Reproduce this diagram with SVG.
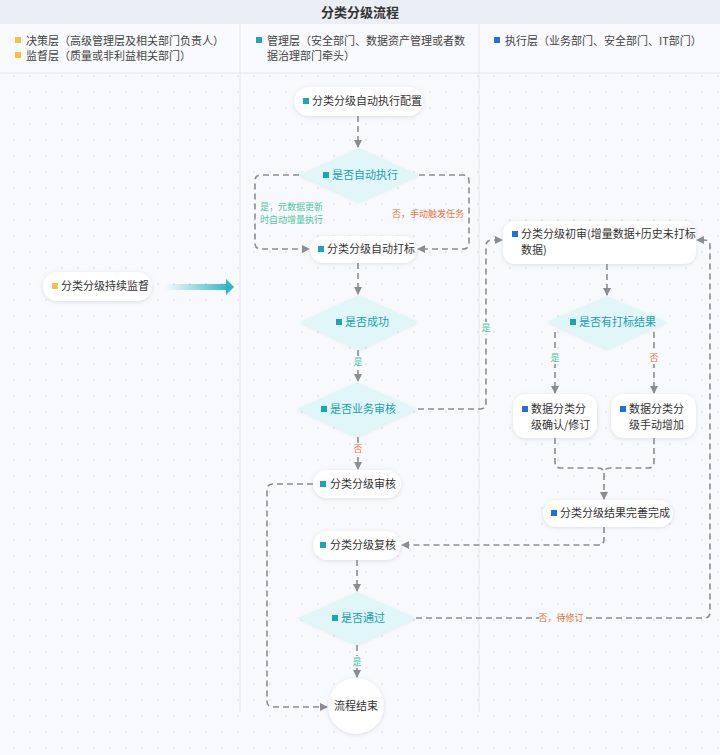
<svg xmlns="http://www.w3.org/2000/svg" width="720" height="755" viewBox="0 0 720 755">
<style>
text{font-family:"Noto Sans CJK SC","Noto Sans",sans-serif;}
.title{font-size:13px;font-weight:bold;fill:#333;}
.hdr{font-size:11px;fill:#444;}
.nt{font-size:11px;fill:#333;}
.dt{font-size:11px;fill:#1a9fad;}
.node{fill:#fff;filter:url(#sh);}
.dia{fill:#e1f6f8;filter:url(#sh2);}
.con{fill:none;stroke:#8a8d94;stroke-width:1.6;stroke-dasharray:6 4;}
.arr{marker-end:url(#ah);}
.yes{font-size:9px;fill:#4cc9a0;}
.no{font-size:9px;fill:#e8743b;}
.lane{stroke:#e3e6ee;stroke-width:1;}
</style>
<defs>
<pattern id="dots" width="16" height="16" patternUnits="userSpaceOnUse" x="6" y="4">
<circle cx="8" cy="8" r="0.8" fill="#cdd2dc"/>
</pattern>
<filter id="sh" x="-20%" y="-40%" width="140%" height="180%">
<feDropShadow dx="0" dy="1" stdDeviation="2" flood-color="#8892a6" flood-opacity="0.25"/>
</filter>
<filter id="sh2" x="-20%" y="-40%" width="140%" height="180%">
<feDropShadow dx="0" dy="1" stdDeviation="1.5" flood-color="#7fc6cf" flood-opacity="0.25"/>
</filter>
<marker id="ah" markerWidth="8" markerHeight="8" refX="7" refY="4" orient="auto" markerUnits="userSpaceOnUse">
<path d="M0,0 L8,4 L0,8 Z" fill="#8a8d94"/>
</marker>
<linearGradient id="ga" x1="0" y1="0" x2="1" y2="0">
<stop offset="0" stop-color="#3bbcc8" stop-opacity="0"/>
<stop offset="1" stop-color="#2fb5c3"/>
</linearGradient>
</defs>
<rect width="720" height="755" fill="#f8f9fd"/>
<rect y="73" width="720" height="682" fill="url(#dots)"/>
<rect width="720" height="24" fill="#eceef5"/>
<text class="title" x="360" y="17" text-anchor="middle">分类分级流程</text>
<rect y="24" width="720" height="49" fill="#f9fafd"/>
<line class="lane" x1="0" y1="73" x2="720" y2="73"/>
<line class="lane" x1="240" y1="24" x2="240" y2="712"/>
<line class="lane" x1="479" y1="24" x2="479" y2="712"/>
<g id="header">
<rect x="15" y="37" width="6" height="6" fill="#f5c342"/>
<text class="hdr" x="26" y="45">决策层（高级管理层及相关部门负责人）</text>
<rect x="15" y="52" width="6" height="6" fill="#f5c342"/>
<text class="hdr" x="26" y="60">监督层（质量或非利益相关部门）</text>
<rect x="256" y="37" width="6" height="6" fill="#1ba6b5"/>
<text class="hdr" x="267" y="45">管理层（安全部门、数据资产管理或者数</text>
<text class="hdr" x="267" y="60">据治理部门牵头）</text>
<rect x="494" y="37" width="6" height="6" fill="#1f6fe0"/>
<text class="hdr" x="505" y="45">执行层（业务部门、安全部门、IT部门）</text>
</g>
<g id="connectors">
<path class="con arr" d="M358,116 V147"/>
<path class="con arr" d="M299,175 H261 Q255,175 255,181 V243 Q255,249 261,249 H309"/>
<path class="con arr" d="M419,175 H463 Q469,175 469,181 V243 Q469,249 463,249 H418"/>
<path class="con arr" d="M358,263 V294"/>
<path class="con arr" d="M358,350 V381"/>
<path class="con arr" d="M418,409 H480 Q486,409 486,403 V246 Q486,240 492,240 H502"/>
<path class="con arr" d="M358,437 V469"/>
<path class="con arr" d="M313,484 H273 Q267,484 267,490 V701 Q267,707 273,707 H327"/>
<path class="con arr" d="M607,264 V295"/>
<path class="con arr" d="M555,332 V393"/>
<path class="con arr" d="M654,332 V393"/>
<path class="con arr" d="M555,438 V462 Q555,468 561,468 H598 Q604,468 604,474 V499"/>
<path class="con" d="M654,438 V462 Q654,468 648,468 H610 Q604,468 604,474"/>
<path class="con arr" d="M604,527 V539 Q604,545 598,545 H402"/>
<path class="con arr" d="M357,560 V591"/>
<path class="con arr" d="M357,645 V677"/>
<path class="con arr" d="M416,618 H704 Q710,618 710,612 V246 Q710,240 704,240 H697"/>
<rect x="165" y="284" width="64" height="6" fill="url(#ga)"/>
<path d="M226,279 L234,287 L226,295 Z" fill="#2fb5c3"/>
<text class="yes" x="260" y="210">是，元数据更新</text>
<text class="yes" x="260" y="223">时自动增量执行</text>
<text class="no" x="392" y="217">否，手动触发任务</text>
<rect x="352" y="356" width="12" height="12" fill="#f8f9fd"/>
<text class="yes" x="358" y="365" text-anchor="middle">是</text>
<rect x="480" y="322" width="12" height="12" fill="#f8f9fd"/>
<text class="yes" x="486" y="331" text-anchor="middle">是</text>
<rect x="352" y="443" width="12" height="12" fill="#f8f9fd"/>
<text class="no" x="358" y="452" text-anchor="middle">否</text>
<rect x="549" y="352" width="12" height="12" fill="#f8f9fd"/>
<text class="yes" x="555" y="361" text-anchor="middle">是</text>
<rect x="648" y="352" width="12" height="12" fill="#f8f9fd"/>
<text class="no" x="654" y="361" text-anchor="middle">否</text>
<rect x="351" y="656" width="12" height="12" fill="#f8f9fd"/>
<text class="yes" x="357" y="665" text-anchor="middle">是</text>
<rect x="539" y="612" width="44" height="12" fill="#f8f9fd"/>
<text class="no" x="561" y="621" text-anchor="middle">否，待修订</text>
</g>
<g id="n-config">
<rect class="node" x="294" y="87" width="129" height="29" rx="14.5"/>
<rect x="303" y="98" width="6" height="6" fill="#1ba6b5"/>
<text class="nt" x="312" y="105">分类分级自动执行配置</text>
</g>
<g id="n-auto">
<path class="dia" d="M359,148 L419,175 L359,202 L299,175 Z"/>
<rect x="323" y="172" width="6" height="6" fill="#1ba6b5"/>
<text class="dt" x="332" y="179">是否自动执行</text>
</g>
<g id="n-tag">
<rect class="node" x="310" y="236" width="107" height="27" rx="13.5"/>
<rect x="318" y="246" width="6" height="6" fill="#1ba6b5"/>
<text class="nt" x="327" y="253">分类分级自动打标</text>
</g>
<g id="n-success">
<path class="dia" d="M359,295 L418,322 L359,350 L300,322 Z"/>
<rect x="336" y="319" width="6" height="6" fill="#1ba6b5"/>
<text class="dt" x="345" y="326">是否成功</text>
</g>
<g id="n-bizreview">
<path class="dia" d="M357,382 L417,409 L357,437 L297,409 Z"/>
<rect x="321" y="406" width="6" height="6" fill="#1ba6b5"/>
<text class="dt" x="330" y="413">是否业务审核</text>
</g>
<g id="n-review">
<rect class="node" x="313" y="470" width="88" height="28" rx="14"/>
<rect x="320" y="481" width="6" height="6" fill="#1ba6b5"/>
<text class="nt" x="330" y="488">分类分级审核</text>
</g>
<g id="n-recheck">
<rect class="node" x="313" y="531" width="88" height="29" rx="14.5"/>
<rect x="320" y="542" width="6" height="6" fill="#1ba6b5"/>
<text class="nt" x="330" y="549">分类分级复核</text>
</g>
<g id="n-pass">
<path class="dia" d="M357,592 L416,618 L357,645 L298,618 Z"/>
<rect x="332" y="615" width="6" height="6" fill="#1ba6b5"/>
<text class="dt" x="341" y="622">是否通过</text>
</g>
<g id="n-end">
<circle class="node" cx="356" cy="706" r="28"/>
<text class="nt" x="356" y="710" text-anchor="middle">流程结束</text>
</g>
<g id="n-supervise">
<rect class="node" x="43" y="272" width="109" height="29" rx="14.5"/>
<rect x="52" y="283" width="6" height="6" fill="#f5c342"/>
<text class="nt" x="61" y="290">分类分级持续监督</text>
</g>
<g id="n-initial">
<rect class="node" x="503" y="221" width="193" height="43" rx="12"/>
<rect x="512" y="231" width="6" height="6" fill="#1f6fe0"/>
<text class="nt" x="521" y="238">分类分级初审(增量数据+历史未打标</text>
<text class="nt" x="521" y="254">数据)</text>
</g>
<g id="n-hastag">
<path class="dia" d="M607,296 L667,322 L607,349 L547,322 Z"/>
<rect x="570" y="319" width="6" height="6" fill="#1ba6b5"/>
<text class="dt" x="579" y="326">是否有打标结果</text>
</g>
<g id="n-confirm">
<rect class="node" x="513" y="394" width="84" height="44" rx="13"/>
<rect x="522" y="406" width="6" height="6" fill="#1f6fe0"/>
<text class="nt" x="531" y="413">数据分类分</text>
<text class="nt" x="531" y="429">级确认/修订</text>
</g>
<g id="n-manual">
<rect class="node" x="611" y="394" width="85" height="44" rx="13"/>
<rect x="620" y="406" width="6" height="6" fill="#1f6fe0"/>
<text class="nt" x="629" y="413">数据分类分</text>
<text class="nt" x="629" y="429">级手动增加</text>
</g>
<g id="n-complete">
<rect class="node" x="543" y="500" width="130" height="27" rx="13.5"/>
<rect x="551" y="510" width="6" height="6" fill="#1f6fe0"/>
<text class="nt" x="560" y="517">分类分级结果完善完成</text>
</g>
</svg>
